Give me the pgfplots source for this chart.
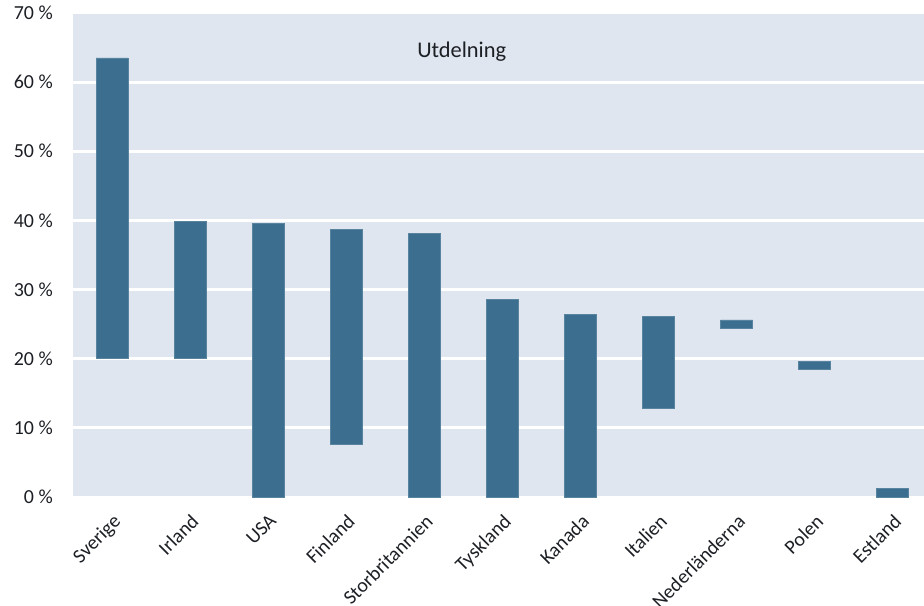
\documentclass[border=0pt]{standalone}
\usepackage{pgfplots}
\pgfplotsset{compat=1.18}
\usepackage{pgfplotstable}
\usepackage{fontspec}
\setmainfont{Carlito}
\definecolor{bg}{HTML}{DFE6EF}
\definecolor{bar}{HTML}{3C6E8F}
\definecolor{txt}{HTML}{1C1F24}
\pgfplotstableread{
x low high
0 20.0 63.5
1 20.0 39.9
2 0 39.6
3 7.6 38.7
4 0 38.1
5 0 28.6
6 0 26.4
7 12.8 26.1
8 24.4 25.6
9 18.4 19.6
10 0 1.2
}\datatab
\begin{document}
\begin{tikzpicture}
\useasboundingbox (-73bp,-109bp) rectangle (851bp,497bp);
\begin{axis}[
  at={(0,0)}, anchor=south west,
  scale only axis,
  width=851bp, height=484bp,
  xmin=-0.5, xmax=10.4,
  ymin=0, ymax=70,
  ybar stacked,
  bar width=0.41,
  axis background/.style={fill=bg},
  axis line style={draw=none},
  tick style={draw=none},
  ymajorgrids,
  grid style={white, line width=3bp},
  ytick={0,10,...,70},
  yticklabels={0~\%,10~\%,20~\%,30~\%,40~\%,50~\%,60~\%,70~\%},
  xtick={0,...,10},
  xticklabels={Sverige,Irland,USA,Finland,Storbritannien,Tyskland,Kanada,Italien,Nederländerna,Polen,Estland},
  every tick label/.append style={font=\fontsize{20}{24}\selectfont, text=txt},
  yticklabel style={anchor=east, inner sep=0pt},
  yticklabel shift=20bp,
  xticklabel style={rotate=45, anchor=north east, inner sep=0pt},
  xticklabel shift=16bp,
  clip=false,
]
\addplot+[draw=none, fill=none, mark=none] table[x=x, y=low] {\datatab};
\addplot+[fill=bar, draw=bar!85!white, line width=0.6bp, mark=none] table[x=x, y expr=\thisrow{high}-\thisrow{low}] {\datatab};
\node[anchor=base, font=\fontsize{22.5}{27}\selectfont, text=txt] at (rel axis cs:0.4568,0.909) {Utdelning};
\end{axis}
\end{tikzpicture}
\end{document}
